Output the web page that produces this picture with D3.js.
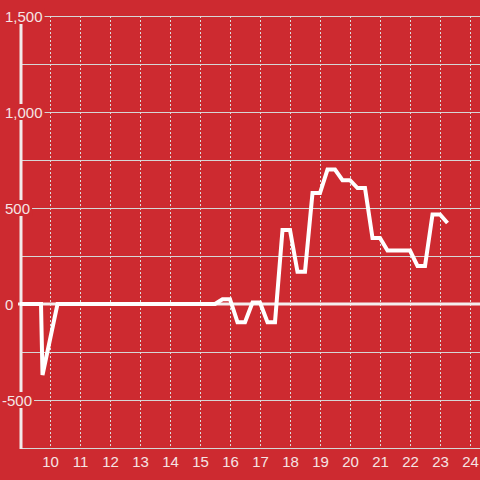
<!DOCTYPE html>
<html><head><meta charset="utf-8">
<script src="https://cdn.jsdelivr.net/npm/d3@7"></script>
<style>html,body{margin:0;padding:0;background:#cd2a30;}svg{display:block;}</style>
</head><body>
<script>
const hours = [9, 9.7, 9.75, 10.25, 15.5, 15.75, 16, 16.25, 16.5, 16.75, 17, 17.25, 17.5, 17.75, 18, 18.25, 18.5, 18.75, 19, 19.25, 19.5, 19.75, 20, 20.25, 20.5, 20.75, 21, 21.25, 21.5, 21.75, 22, 22.25, 22.5, 22.75, 23, 23.25];
const values = [0, 0, -370, 0, 0, 25, 25, -95, -95, 8, 8, -95, -95, 385, 385, 168, 168, 578, 578, 700, 700, 645, 645, 604, 604, 344, 344, 278, 278, 278, 278, 198, 198, 466, 466, 422];
const xTicks = [10, 11, 12, 13, 14, 15, 16, 17, 18, 19, 20, 21, 22, 23, 24];
const yGrid = [-750, -500, -250, 0, 250, 500, 750, 1000, 1250, 1500];
const yLabels = [-500, 0, 500, 1000, 1500];

const W = 480, H = 480, bg = "#cd2a30";
const x = d3.scaleLinear().domain([9, 24 + 1/3]).range([20, 480]);
const y = d3.scaleLinear().domain([-750, 1500]).range([448, 16]);
const svg = d3.select("body").append("svg").attr("width", W).attr("height", H);
svg.append("rect").attr("width", W).attr("height", H).attr("fill", bg);

// horizontal grid
svg.append("g").selectAll("line").data(yGrid.filter(d => d !== 0)).join("line")
  .attr("x1", 21).attr("x2", W).attr("y1", d => y(d) + 0.5).attr("y2", d => y(d) + 0.5)
  .attr("stroke", "#d6d6d6").attr("stroke-width", 1);
// vertical dotted grid
svg.append("g").selectAll("line").data(xTicks).join("line")
  .attr("x1", d => x(d) + 0.5).attr("x2", d => x(d) + 0.5).attr("y1", 16).attr("y2", 448)
  .attr("stroke", "#dcdcdc").attr("stroke-width", 1).attr("stroke-dasharray", "2,2");
// y axis line
svg.append("line").attr("x1", 21).attr("x2", 21).attr("y1", 16).attr("y2", 449)
  .attr("stroke", "#f2eaea").attr("stroke-width", 3);
// zero line
svg.append("line").attr("x1", 18).attr("x2", W).attr("y1", y(0)).attr("y2", y(0))
  .attr("stroke", "#f4eeee").attr("stroke-width", 3);

// y labels with background
const fmt = d => d3.format(",")(d).replace("\u2212", "-");
const lg = svg.append("g");
yLabels.forEach(d => {
  const g = lg.append("g");
  const r = g.append("rect").attr("fill", bg);
  const t = g.append("text").attr("x", d < 0 ? 2 : 5).attr("y", y(d) + 5.5)
    .attr("font-family", "Liberation Sans, Arial, sans-serif").attr("font-size", 15)
    .attr("fill", "#f5e4e4").text(fmt(d));
  const b = t.node().getBBox();
  r.attr("x", 0).attr("y", y(d) - 8).attr("width", b.x + b.width + 2).attr("height", 16);
});

// x labels
svg.append("g").selectAll("text").data(xTicks).join("text")
  .attr("x", d => x(d) + 0.5).attr("y", 467).attr("text-anchor", "middle")
  .attr("font-family", "Liberation Sans, Arial, sans-serif").attr("font-size", 15)
  .attr("fill", "#f5e4e4").text(d => d);

// data line
const pts = hours.map((h, i) => [h, values[i]]);
svg.append("path").datum(pts)
  .attr("d", d3.line().x(d => x(d[0])).y(d => y(d[1])))
  .attr("fill", "none").attr("stroke", "#ffffff").attr("stroke-width", 4)
  .attr("stroke-linejoin", "miter");
</script>
</body></html>
